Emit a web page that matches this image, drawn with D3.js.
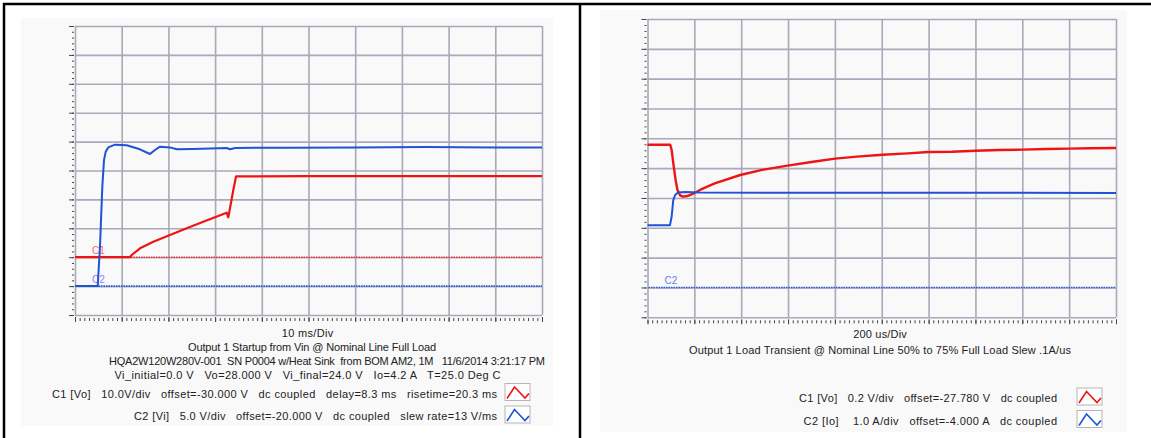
<!DOCTYPE html>
<html>
<head>
<meta charset="utf-8">
<script src="https://cdn.jsdelivr.net/npm/d3@7"></script>
<style>
  body { margin: 0; background: #fff; }
  svg text { font-family: "Liberation Sans", Arial, sans-serif; fill: #222; white-space: pre; }
  .grid line { stroke: #a9a9b9; stroke-width: 1.6; }
  .ticks line { stroke: #444; stroke-width: 1; }
</style>
</head>
<body>
<div id="viz"></div>
<script>
// LEFT: startup, 10 ms/div
let startupVinTime = [0, 4.86, 5.35, 5.85, 6.21, 6.57, 7.13, 8.57, 11.07, 13.9, 16.06, 17.13, 18.2, 20.3, 21.8, 25.3, 32.5, 33.2, 34.3, 45, 60, 75, 90, 100];
let startupVin     = [0, 0, 6.8, 17.2, 21.8, 23.25, 24.0, 24.47, 24.36, 23.67, 22.85, 23.55, 24.12, 24.0, 23.67, 23.72, 23.9, 23.67, 23.9, 23.95, 24.0, 24.05, 24.0, 23.98];
let startupVoTime  = [0, 11.78, 12.14, 13.92, 16.77, 20.34, 23.92, 27.47, 32.48, 32.83, 33.9, 34.48, 50, 70, 100];
let startupVo      = [0, 0, 0.76, 3.08, 5.36, 7.68, 10.0, 12.28, 15.4, 13.8, 23.25, 27.95, 28.05, 28.05, 28.05];

// RIGHT: load transient, 200 us/div
let transientVoTime = [0, 97, 103, 112, 120, 128, 139, 151, 170, 193, 224, 287, 396, 489, 598, 707, 801, 894, 1003, 1112, 1199, 1299, 1400, 1502, 1600, 1704, 1799, 1891, 2000];
let transientVo     = [27.937, 27.937, 27.902, 27.790, 27.701, 27.634, 27.598, 27.589, 27.593, 27.607, 27.634, 27.678, 27.734, 27.768, 27.797, 27.823, 27.844, 27.857, 27.870, 27.879, 27.888, 27.890, 27.897, 27.902, 27.904, 27.908, 27.911, 27.913, 27.915];
let transientIoTime = [0, 96, 103, 110, 118, 130, 161, 224, 2000];
let transientIo     = [2.09, 2.09, 2.37, 2.93, 3.10, 3.18, 3.20, 3.18, 3.17];

let startupText = [
    "10 ms/Div",
    "Output 1 Startup from Vin @ Nominal Line Full Load",
    "HQA2W120W280V-001  SN P0004 w/Heat Sink  from BOM AM2, 1M   11/6/2014 3:21:17 PM",
    "Vi_initial=0.0 V   Vo=28.000 V   Vi_final=24.0 V   Io=4.2 A   T=25.0 Deg C"
];
let startupLegend = [
    "C1 [Vo]   10.0V/div   offset=-30.000 V   dc coupled   delay=8.3 ms   risetime=20.3 ms",
    "C2 [Vi]   5.0 V/div   offset=-20.000 V   dc coupled   slew rate=13 V/ms"
];
let transientText = [
    "200 us/Div",
    "Output 1 Load Transient @ Nominal Line 50% to 75% Full Load Slew .1A/us"
];
let transientLegend = [
    "C1 [Vo]   0.2 V/div   offset=-27.780 V   dc coupled",
    "C2 [Io]    1.0 A/div   offset=-4.000 A   dc coupled"
];

let RED = "#ee1414", BLUE = "#1f52d6";

let svg = d3.select("#viz").append("svg")
    .attr("width", 1151)
    .attr("height", 438);

svg.append("rect").attr("width", 1151).attr("height", 438).attr("fill", "#fff");

function draw_scope(o) {
    let g = svg.append("g");

    g.append("rect")
        .attr("x", o.bg[0]).attr("y", o.bg[1])
        .attr("width", o.bg[2] - o.bg[0]).attr("height", o.bg[3] - o.bg[1])
        .attr("fill", "#f9f9f9");

    let divX = d3.scaleLinear().domain([0, 10]).range([o.x0, o.x1]);
    let divY = d3.scaleLinear().domain([0, 10]).range([o.y1, o.y0]);
    let x = d3.scaleLinear().domain(o.xDomain).range([o.x0, o.x1]);
    let y1 = d3.scaleLinear().domain(o.c1Domain).range([o.y1, o.y0]);
    let y2 = d3.scaleLinear().domain(o.c2Domain).range([o.y1, o.y0]);

    // grid
    g.append("g").attr("class", "grid")
        .attr("transform", "translate(0," + o.y1 + ")")
        .call(d3.axisBottom(divX).tickValues(d3.range(0, 11)).tickSize(-(o.y1 - o.y0)).tickFormat(""))
        .call(s => s.select(".domain").remove());
    g.append("g").attr("class", "grid")
        .attr("transform", "translate(" + o.x0 + ",0)")
        .call(d3.axisLeft(divY).tickValues(d3.range(0, 11)).tickSize(-(o.x1 - o.x0)).tickFormat(""))
        .call(s => s.select(".domain").remove());

    // ticks
    g.append("g").attr("class", "ticks")
        .attr("transform", "translate(" + (o.x0 - 1) + ",0)")
        .call(d3.axisLeft(divY).tickValues(d3.range(0, 50).map(i => i / 5)).tickSize(2).tickFormat(""))
        .call(s => s.select(".domain").remove());
    g.append("g").attr("class", "ticks")
        .attr("transform", "translate(" + (o.x0 - 1) + ",0)")
        .call(d3.axisLeft(divY).tickValues(d3.range(0, 11)).tickSize(5).tickFormat(""))
        .call(s => s.select(".domain").remove());
    g.append("g").attr("class", "ticks")
        .attr("transform", "translate(0," + (o.y1 + 3) + ")")
        .call(d3.axisBottom(divX).tickValues(d3.range(0, 101).map(i => i / 10)).tickSize(3).tickFormat(""))
        .call(s => s.select(".domain").remove());
    g.append("g").attr("class", "ticks")
        .attr("transform", "translate(0," + (o.y1 + 2) + ")")
        .call(d3.axisBottom(divX).tickValues(d3.range(0, 11)).tickSize(5).tickFormat(""))
        .call(s => s.select(".domain").remove());

    // reference levels
    o.refs.forEach(r => {
        let yy = (r.ch == 1 ? y1 : y2)(0);
        g.append("line")
            .attr("x1", o.x0 + 1).attr("x2", o.x1)
            .attr("y1", yy).attr("y2", yy)
            .attr("stroke", r.color).attr("stroke-width", 1.6)
            .attr("stroke-dasharray", "1.5,1");
        g.append("text")
            .attr("x", o.x0 + r.dx).attr("y", yy - 3)
            .attr("font-size", 10)
            .style("fill", r.labelColor)
            .text(r.label);
    });

    // traces
    o.traces.forEach(t => {
        let yy = t.ch == 1 ? y1 : y2;
        let line = d3.line().x((d, i) => x(t.time[i])).y(d => yy(d));
        g.append("path")
            .datum(t.values)
            .attr("fill", "none")
            .attr("stroke", t.color)
            .attr("stroke-width", t.width)
            .attr("stroke-linejoin", "round")
            .attr("d", line);
    });

    // text below the screen
    o.text.forEach((s, i) => {
        g.append("text")
            .attr("x", o.textX[i]).attr("y", o.textY[i])
            .attr("text-anchor", "middle")
            .attr("font-size", 11)
            .attr("textLength", o.textW[i])
            .attr("lengthAdjust", "spacing")
            .text(s);
    });

    o.legend.forEach((s, i) => {
        g.append("text")
            .attr("x", o.legendX - o.legendW[i]).attr("y", o.legendY[i])
            .attr("font-size", 11)
            .attr("textLength", o.legendW[i])
            .attr("lengthAdjust", "spacing")
            .text(s);
        let bx = o.boxX, by = o.legendY[i] - 14;
        g.append("rect")
            .attr("x", bx).attr("y", by).attr("width", 25).attr("height", 17)
            .attr("fill", "#fff").attr("stroke", "#b5b5b5");
        g.append("path")
            .attr("d", "M" + (bx + 2) + "," + (by + 15) + " L" + (bx + 9.5) + "," + (by + 3.5) +
                " L" + (bx + 20) + "," + (by + 14.5) + " L" + (bx + 24) + "," + (by + 10))
            .attr("fill", "none")
            .attr("stroke", i == 0 ? RED : BLUE)
            .attr("stroke-width", 1.6);
    });
}

draw_scope({
    bg: [21, 18, 553, 426],
    x0: 75, x1: 542, y0: 26, y1: 315,
    xDomain: [0, 100], c1Domain: [-20, 80], c2Domain: [-5, 45],
    refs: [
        {ch: 1, color: "#f03030", label: "C1", labelColor: "#ff6a6a", dx: 17},
        {ch: 2, color: "#2a5ce0", label: "C2", labelColor: "#8a84ee", dx: 17}
    ],
    traces: [
        {ch: 1, time: startupVoTime, values: startupVo, color: RED, width: 2.2},
        {ch: 2, time: startupVinTime, values: startupVin, color: BLUE, width: 2}
    ],
    text: startupText,
    textX: [307.5, 312, 327, 307.5],
    textY: [337, 350.5, 364.5, 378.5],
    textW: [51.5, 248, 436, 386],
    legend: startupLegend,
    legendX: 497, legendY: [397.5, 420], legendW: [445, 363], boxX: 505
});

draw_scope({
    bg: [600, 10, 1127, 432],
    x0: 647.5, x1: 1116, y0: 19, y1: 317.3,
    xDomain: [0, 2000], c1Domain: [26.78, 28.78], c2Domain: [-1, 9],
    refs: [
        {ch: 2, color: "#2a5ce0", label: "C2", labelColor: "#6a7ee8", dx: 17}
    ],
    traces: [
        {ch: 1, time: transientVoTime, values: transientVo, color: RED, width: 2.4},
        {ch: 2, time: transientIoTime, values: transientIo, color: BLUE, width: 2}
    ],
    text: transientText,
    textX: [880, 880],
    textY: [338, 353.5],
    textW: [53.5, 382],
    legend: transientLegend,
    legendX: 1057, legendY: [402, 424.5], legendW: [258, 253.5], boxX: 1077
});

// table rules
let rules = [[3, 4, 1151, 4], [4, 3, 4, 438], [580, 3, 580, 438]];
svg.selectAll(".rule").data(rules).enter().append("line")
    .attr("class", "rule")
    .attr("x1", d => d[0]).attr("y1", d => d[1])
    .attr("x2", d => d[2]).attr("y2", d => d[3])
    .attr("stroke", "#000").attr("stroke-width", 2.5);
</script>
</body>
</html>
